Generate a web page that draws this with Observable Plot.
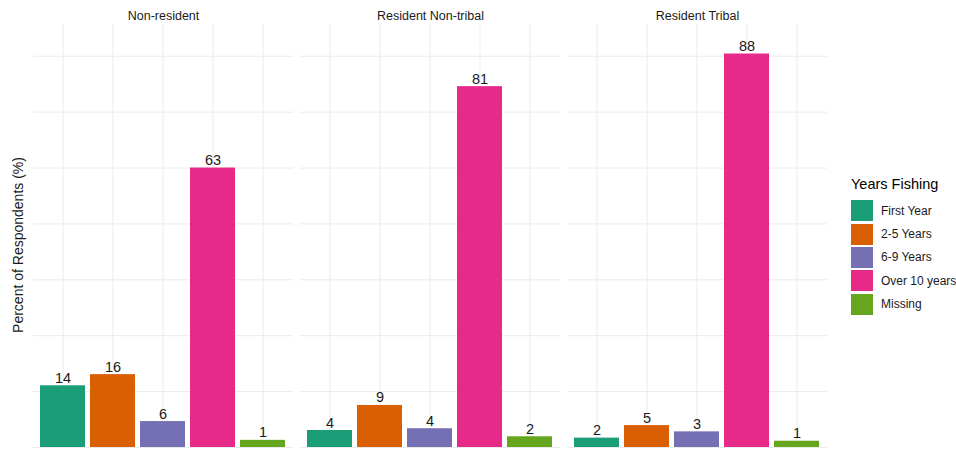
<!DOCTYPE html>
<html>
<head>
<meta charset="utf-8">
<script src="https://cdn.jsdelivr.net/npm/d3@7"></script>
<script src="https://cdn.jsdelivr.net/npm/@observablehq/plot@0.6"></script>
<style>
  html, body { margin: 0; padding: 0; background: #fff; }
  body { font-family: "Liberation Sans", Arial, sans-serif; }
  #wrap { position: relative; width: 956px; height: 449px; overflow: hidden; }
  #chart { position: absolute; left: 0; top: 0; }
  #ylab { position: absolute; left: 18px; top: 245px; transform: translate(-50%, -50%) rotate(-90deg);
          white-space: nowrap; font-size: 14px; color: #1a1a1a; }
  #legend { position: absolute; left: 851px; top: 176px; color: #1a1a1a; white-space: nowrap; width: 105px; }
  #legend .title { font-size: 14.5px; color: #000; margin-bottom: 7px; }
  #legend .row { display: flex; align-items: center; height: 23.4px; }
  #legend .key { width: 22px; height: 21px; margin-right: 8px; flex: none; }
  #legend .lab { font-size: 12px; white-space: nowrap; }
</style>
</head>
<body>
<div id="wrap">
  <div id="chart"></div>
  <div id="ylab">Percent of Respondents (%)</div>
  <div id="legend"></div>
</div>
<script>
const groups = ["Non-resident", "Resident Non-tribal", "Resident Tribal"];
const categories = ["First Year", "2-5 Years", "6-9 Years", "Over 10 years", "Missing"];
const colors = ["#1B9E77", "#D95F02", "#7570B3", "#E7298A", "#66A61E"];
const nonResident = [13.8, 16.3, 5.8, 62.5, 1.6];
const residentNonTribal = [3.8, 9.4, 4.2, 80.7, 2.4];
const residentTribal = [2.1, 4.9, 3.5, 88.0, 1.4];
const nonResidentLabels = ["14", "16", "6", "63", "1"];
const residentNonTribalLabels = ["4", "9", "4", "81", "2"];
const residentTribalLabels = ["2", "5", "3", "88", "1"];
const yGrid = [0, 12.5, 25, 37.5, 50, 62.5, 75, 87.5];

const series = [nonResident, residentNonTribal, residentTribal];
const labels = [nonResidentLabels, residentNonTribalLabels, residentTribalLabels];
const rows = [];
groups.forEach((g, gi) => categories.forEach((c, ci) => {
  rows.push({group: g, cat: c, value: series[gi][ci], label: labels[gi][ci]});
}));

const chart = Plot.plot({
  width: 840,
  height: 449,
  marginLeft: 33,
  marginRight: 12,
  marginTop: 24,
  marginBottom: 2,
  style: {fontFamily: '"Liberation Sans", Arial, sans-serif', background: "#fff"},
  fx: {domain: groups, paddingInner: 0.026, paddingOuter: 0, label: null},
  x: {domain: categories, paddingInner: 0.1, paddingOuter: 0.15, axis: null},
  y: {domain: [0, 94.6], axis: null},
  color: {domain: categories, range: colors},
  marks: [
    Plot.axisFx({anchor: "top", tickSize: 0, tickPadding: 5, label: null, fontSize: 12.5, fill: "#1a1a1a"}),
    Plot.gridY(yGrid, {stroke: "#ebebeb", strokeOpacity: 1, strokeWidth: 1}),
    Plot.gridX({stroke: "#ebebeb", strokeOpacity: 1, strokeWidth: 1}),
    Plot.barY(rows, {x: "cat", y: "value", fx: "group", fill: "cat"}),
    Plot.text(rows, {x: "cat", y: "value", fx: "group", text: "label", lineAnchor: "bottom", dy: -3,
                     fontSize: 14.5, fill: "#1a1a1a"})
  ]
});
document.getElementById("chart").appendChild(chart);

const legend = document.getElementById("legend");
const t = document.createElement("div");
t.className = "title";
t.textContent = "Years Fishing";
legend.appendChild(t);
categories.forEach((c, i) => {
  const r = document.createElement("div");
  r.className = "row";
  const k = document.createElement("div");
  k.className = "key";
  k.style.background = colors[i];
  const l = document.createElement("div");
  l.className = "lab";
  l.textContent = c;
  r.appendChild(k); r.appendChild(l);
  legend.appendChild(r);
});
</script>
</body>
</html>
